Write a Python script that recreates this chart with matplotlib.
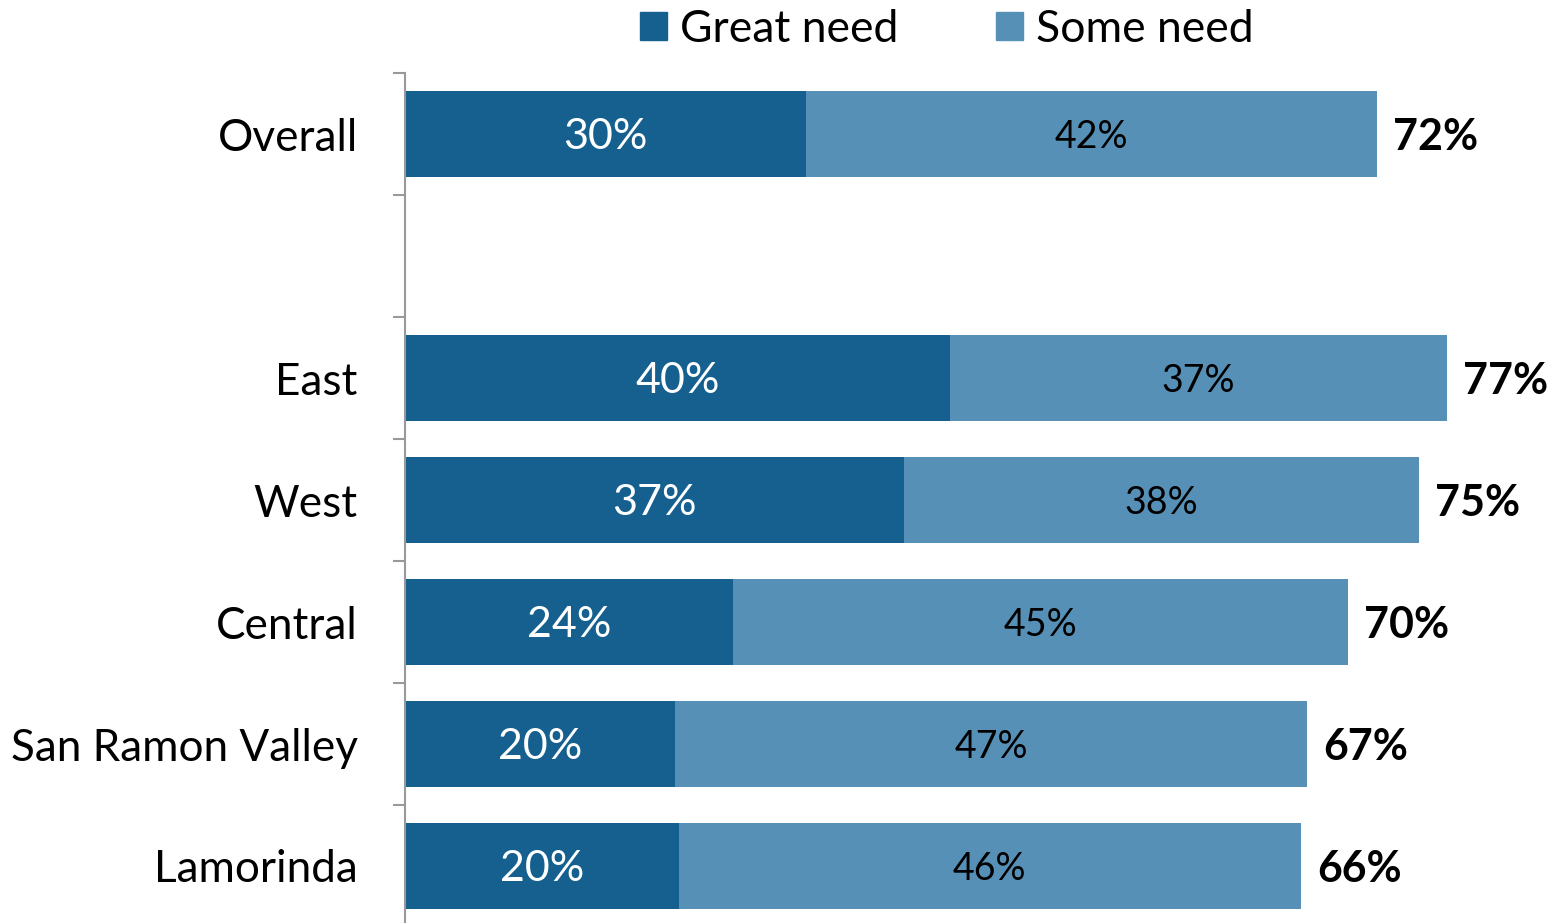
import matplotlib
matplotlib.use("Agg")
import matplotlib.pyplot as plt
from matplotlib.patches import Patch
import numpy as np

plt.rcParams['font.family'] = ['Lato', 'DejaVu Sans']

# Share of respondents by region (percent)
categories = ["Overall", "", "East", "West", "Central", "San Ramon Valley", "Lamorinda"]
great_need = [29.6, np.nan, 40.2, 36.8, 24.2, 19.9, 20.2]
some_need = [42.1, np.nan, 36.7, 38.0, 45.4, 46.7, 45.9]
series_names = ["Great need", "Some need"]

dark = "#15608F"
light = "#5790B6"

fig = plt.figure(figsize=(15.52, 9.23), dpi=100)
ax = fig.add_axes([405 / 1552, -4 / 923, (1540 - 405) / 1552, 854 / 923])

y = np.arange(len(categories))
g = np.array(great_need, dtype=float)
s = np.array(some_need, dtype=float)
mask = ~np.isnan(g)

bar_h = 0.705
ax.barh(y[mask], g[mask], height=bar_h, color=dark, label=series_names[0])
ax.barh(y[mask], s[mask], left=g[mask], height=bar_h, color=light, label=series_names[1])

dy = 0.025  # nudge labels onto the optical centre of each bar
for yi, gv, sv in zip(y[mask], g[mask], s[mask]):
    ax.text(gv / 2, yi + dy, f"{gv:.0f}%", ha="center", va="center",
            color="white", fontsize=31)
    ax.text(gv + sv / 2, yi + dy, f"{sv:.0f}%", ha="center", va="center",
            color="black", fontsize=27)
    ax.text(gv + sv + 1.2, yi + dy, f"{gv + sv:.0f}%", ha="left", va="center",
            color="black", fontsize=31, fontweight="bold")

ax.set_xlim(0, (1540 - 405) / 13.55)
ax.set_ylim(len(categories) - 0.5, -0.5)

for side in ("top", "right", "bottom"):
    ax.spines[side].set_visible(False)
ax.spines["left"].set_color("#999999")
ax.spines["left"].set_linewidth(1.5)

ax.set_xticks([])
ax.set_yticks(y)
ax.set_yticklabels(categories, fontsize=31.8)
ax.tick_params(axis="y", which="major", length=0, pad=34)
ax.set_yticks(np.arange(-0.5, len(categories) + 0.5, 1.0), minor=True)
ax.tick_params(axis="y", which="minor", length=9, width=1.5, color="#999999")

handles = [Patch(color=dark), Patch(color=light)]
fig.legend(handles, series_names, loc="upper center", ncol=2,
           bbox_to_anchor=(947 / 1552, 1.034), frameon=False, fontsize=32,
           handlelength=0.6, handleheight=0.6, handletextpad=0.3,
           columnspacing=2.2)

fig.savefig("out.png", dpi=100)
